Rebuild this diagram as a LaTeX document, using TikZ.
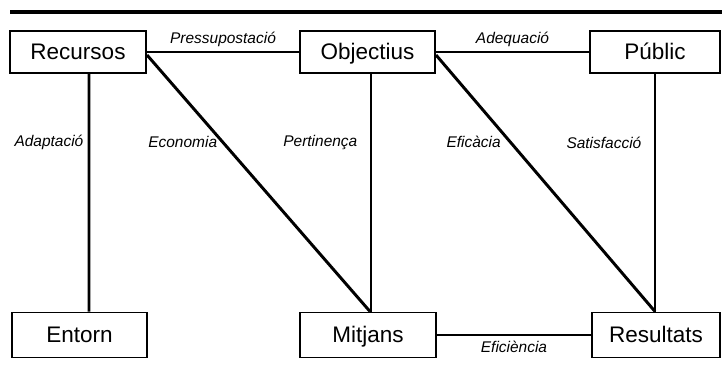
\documentclass[tikz,border=0pt]{standalone}
\usepackage{fontspec}
\setmainfont{Liberation Sans}
\usetikzlibrary{positioning}

\begin{document}
\begin{tikzpicture}[x=0.025cm, y=-0.025cm,
    box/.style={draw, line width=1.4pt, inner sep=0pt, minimum height=1.05cm,
        text height=12pt, text depth=2pt, font=\fontsize{16}{19}\selectfont},
    link/.style={line width=2.1pt},
    lbl/.style={font=\fontsize{11}{13}\selectfont\itshape, inner sep=3pt}]
    \useasboundingbox (0,0) rectangle (722,381);

    % Top rule
    \draw[line width=2.5pt] (10,12) -- (722,12);

    % Top row
    \node[box, minimum width=3.4cm] (rec) at (78,52) {Recursos};
    \node[box, minimum width=3.375cm] (obj) at (367.5,52) {Objectius};
    \node[box, minimum width=3.25cm] (pub) at (655,52) {Públic};

    % Bottom row
    \node[box, minimum width=3.375cm, minimum height=1.125cm] (ent) at (79.5,335) {Entorn};
    \node[box, minimum width=3.4cm, minimum height=1.125cm] (mit) at (368,335) {Mitjans};
    \node[box, minimum width=3.2cm, minimum height=1.125cm] (res) at (656,335) {Resultats};

    % Horizontal links
    \draw[link] (rec) -- (obj) node[lbl, midway, above] {Pressupostació};
    \draw[link] (obj) -- (pub) node[lbl, midway, above] {Adequació};
    \draw[link] (mit) -- (res) node[lbl, midway, below] {Eficiència};

    % Vertical links
    \draw[link] ([xshift=0.275cm]rec.south) -- ([xshift=0.2375cm]ent.north)
        node[lbl, pos=0.29, left] {Adaptació};
    \draw[link] ([xshift=0.0875cm]obj.south) -- ([xshift=0.075cm]mit.north)
        node[lbl, pos=0.29, left, xshift=-0.2cm] {Pertinença};
    \draw[link] (pub.south) -- ([xshift=-0.025cm]res.north)
        node[lbl, pos=0.29, left, xshift=-0.2cm] {Satisfacció};

    % Diagonals
    \draw[link] ([yshift=-0.075cm]rec.east) -- ([xshift=0.05cm]mit.north)
        node[lbl, pos=0.34, left] {Economia};
    \draw[link] ([yshift=-0.075cm]obj.east) -- ([xshift=-0.025cm]res.north)
        node[lbl, pos=0.34, left, xshift=-0.1cm] {Eficàcia};
\end{tikzpicture}
\end{document}
